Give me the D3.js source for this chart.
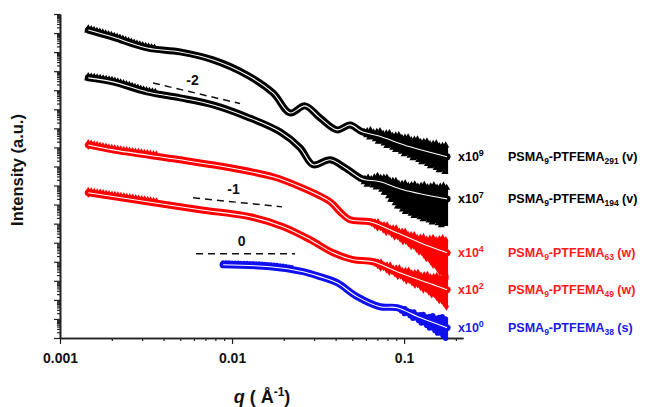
<!DOCTYPE html>
<html>
<head>
<meta charset="utf-8">
<script src="https://cdn.jsdelivr.net/npm/d3@7.9.0/dist/d3.min.js"></script>
<style>
  body { margin: 0; background: #fff; }
  svg { display: block; font-family: Arial, "Liberation Sans", sans-serif; font-weight: bold; }
</style>
</head>
<body>
<svg id="chart" width="647" height="407"></svg>
<script>
// q in 1/Angstrom, intensity as log10 of the plotted (offset) value
const q291 = [0.00146, 0.00203, 0.00321, 0.00499, 0.00776, 0.01223, 0.01731, 0.02173, 0.02657, 0.03248, 0.04078, 0.04853, 0.05699, 0.0706, 0.1084, 0.1778];
const logI291 = [12.16, 11.79, 11.22, 11.01, 10.59, 9.8, 8.86, 7.81, 8.18, 7.55, 6.92, 7.18, 6.82, 6.61, 6.03, 5.51];
const up291 = [0, 0, 0, 0, 0, 0, 0, 0, 0, 0, 0, 0, 0, 0.15, 0.37, 0.47];
const down291 = [0, 0, 0, 0, 0, 0, 0, 0, 0, 0, 0, 0, 0, 0.2, 0.42, 0.79];

const q194 = [0.00146, 0.00203, 0.00321, 0.00499, 0.00776, 0.01223, 0.01901, 0.02485, 0.02957, 0.03715, 0.0454, 0.05548, 0.05934, 0.07252, 0.09867, 0.1778];
const logI194 = [9.65, 9.44, 8.91, 8.6, 8.23, 7.6, 6.82, 5.98, 5.09, 5.35, 4.93, 4.4, 4.3, 4.2, 3.78, 3.3];
const up194 = [0, 0, 0, 0, 0, 0, 0, 0, 0, 0, 0, 0, 0, 0.2, 0.25, 0.58];
const down194 = [0, 0, 0, 0, 0, 0, 0, 0, 0, 0, 0, 0, 0.1, 0.3, 1.0, 1.36];

const q63 = [0.00146, 0.00203, 0.00499, 0.00974, 0.01731, 0.02485, 0.03715, 0.04244, 0.04853, 0.0634, 0.09105, 0.1239, 0.1778];
const logI63 = [6.13, 5.87, 5.35, 4.93, 4.46, 3.93, 3.15, 2.62, 2.2, 2.1, 1.52, 1.0, 0.47];
const up63 = [0, 0, 0, 0, 0, 0, 0, 0, 0, 0, 0.1, 0.2, 0.65];
const down63 = [0, 0, 0, 0, 0, 0, 0, 0, 0, 0, 0.15, 0.4, 1.3];

const q49 = [0.00146, 0.00321, 0.00652, 0.01273, 0.0198, 0.02841, 0.03868, 0.05053, 0.06603, 0.09105, 0.1475, 0.1778];
const logI49 = [3.62, 3.15, 2.73, 2.36, 1.84, 1.16, 0.47, 0.11, 0.0, -0.52, -1.2, -1.47];
const up49 = [0, 0, 0, 0, 0, 0, 0, 0, 0, 0.1, 0.35, 0.6];
const down49 = [0, 0, 0, 0, 0, 0, 0, 0, 0, 0.1, 0.45, 0.8];

const q38 = [0.00887, 0.01663, 0.02587, 0.03248, 0.04078, 0.05332, 0.07252, 0.09105, 0.1239, 0.1778];
const logI38 = [-0.16, -0.26, -0.52, -0.78, -1.1, -1.83, -2.36, -2.41, -2.93, -3.46];
const up38 = [0, 0, 0, 0, 0, 0, 0, 0, 0.1, 0.45];
const down38 = [0, 0, 0, 0, 0, 0, 0, 0, 0.15, 0.5];

const multipliers = ["9", "7", "4", "2", "0"];
const subscripts = ["291", "194", "63", "49", "38"];
const phases = ["(v)", "(v)", "(w)", "(w)", "(s)"];

// power-law guide lines: [q start, q end], [log I start, log I end], label
const guideQ = [[0.003474, 0.01113], [0.005934, 0.01953], [0.006176, 0.02324]];
const guideLogI = [[9.38, 8.3], [3.36, 2.88], [0.42, 0.42]];
const guideLabels = ["-2", "-1", "0"];

const xTickLabels = [0.001, 0.01, 0.1];

const colors = ["#000000", "#000000", "#ff0000", "#ff0000", "#1010ee"];
const textColors = ["#000000", "#000000", "#ff1a1a", "#ff1a1a", "#1a1ae6"];
const symbols = [d3.symbolTriangle, d3.symbolTriangle, d3.symbolDiamond, d3.symbolDiamond, d3.symbolCircle];

const rawSeries = [
  [q291, logI291, up291, down291],
  [q194, logI194, up194, down194],
  [q63, logI63, up63, down63],
  [q49, logI49, up49, down49],
  [q38, logI38, up38, down38]
];

const series = rawSeries.map(([q, l, up, dn], i) => ({
  points: q.map((v, j) => ({ q: v, I: 10 ** l[j], hi: 10 ** (l[j] + up[j]), lo: 10 ** (l[j] - dn[j]), spread: up[j] + dn[j] })),
  color: colors[i],
  textColor: textColors[i],
  symbol: symbols[i],
  mult: multipliers[i],
  sub: subscripts[i],
  phase: phases[i]
}));

const svg = d3.select("#chart");

const x = d3.scaleLog().domain([0.001, 0.22]).range([60, 463]);
const y = d3.scaleLog().domain([1e-4, 1e13]).range([338, 14]);

// axes
const yMajor = d3.range(-4, 14).map((e) => 10 ** e);
const yMinor = [];
d3.range(-4, 13).forEach((e) => {
  for (let m = 2; m <= 9; m++) yMinor.push(m * 10 ** e);
});
const xMinor = [];
[-3, -2, -1].forEach((e) => {
  for (let m = 2; m <= 9; m++) {
    const v = m * 10 ** e;
    if (v <= 0.22) xMinor.push(v);
  }
});

const yAxisMinor = svg.append("g").attr("transform", "translate(60,0)")
  .call(d3.axisLeft(y).tickValues(yMinor).tickSize(3).tickSizeOuter(0).tickFormat(""));
const yAxis = svg.append("g").attr("transform", "translate(60,0)")
  .call(d3.axisLeft(y).tickValues(yMajor).tickSize(6).tickSizeOuter(0).tickFormat(""));
const xAxisMinor = svg.append("g").attr("transform", "translate(0,338)")
  .call(d3.axisBottom(x).tickValues(xMinor).tickSize(3).tickSizeOuter(0).tickFormat(""));
const xAxis = svg.append("g").attr("transform", "translate(0,338)")
  .call(d3.axisBottom(x).tickValues(xTickLabels).tickSize(6).tickSizeOuter(0).tickPadding(9).tickFormat((d) => String(d)));

[yAxis, yAxisMinor, xAxis, xAxisMinor].forEach((g) => {
  g.selectAll("path.domain").attr("stroke", "#222").attr("stroke-width", 1.6);
  g.selectAll(".tick line").attr("stroke", "#222").attr("stroke-width", 1.2);
});
xAxis.selectAll(".tick text")
  .attr("font-size", 14).attr("font-weight", "bold").attr("fill", "#111")
  .attr("font-family", "Arial, 'Liberation Sans', sans-serif");

// curves
const curve = d3.curveCatmullRom.alpha(0.5);
const line = d3.line().x((d) => x(d.q)).y((d) => y(d.I)).curve(curve);
const hiLine = d3.line().x((d) => x(d.q)).y((d) => y(d.hi)).curve(curve);
const loLine = d3.line().x((d) => x(d.q)).y((d) => y(d.lo)).curve(curve);
const band = d3.area().x((d) => x(d.q)).y0((d) => y(d.lo)).y1((d) => y(d.hi)).curve(curve);

series.forEach((s) => {
  const g = svg.append("g");
  const firstNoisy = s.points.findIndex((d) => d.spread > 0);
  const noisy = s.points.slice(Math.max(0, firstNoisy - 1));
  g.append("path").attr("d", band(noisy)).attr("fill", s.color).attr("stroke", s.color).attr("stroke-width", 2);

  // scattered markers along the edges of the noisy tail
  const edgeSym = d3.symbol().type(s.symbol).size(22);
  [hiLine, loLine].forEach((gen, k) => {
    const tmp = g.append("path").attr("d", gen(noisy)).attr("fill", "none");
    const n = tmp.node();
    const len = n.getTotalLength();
    let c = 0;
    for (let L = 2; L < len; L += 3.2, c++) {
      const p = n.getPointAtLength(L);
      const off = (k === 0 ? -1 : 1) * (c % 3);
      g.append("path").attr("d", edgeSym()).attr("fill", s.color)
        .attr("transform", `translate(${p.x},${p.y + off})`);
    }
    tmp.remove();
  });

  const thick = g.append("path").attr("d", line(s.points))
    .attr("fill", "none").attr("stroke", s.color).attr("stroke-width", 7).attr("stroke-linecap", "round");

  // serrated marker edge at the low-q start
  const node = thick.node();
  const total = node.getTotalLength();
  const sym = d3.symbol().type(s.symbol).size(14);
  for (let L = 0; L < Math.min(70, total); L += 3) {
    const p = node.getPointAtLength(L);
    g.append("path").attr("d", sym()).attr("fill", s.color)
      .attr("transform", `translate(${p.x},${p.y - 2.5})`);
  }
  g.append("path").attr("d", d3.symbol().type(s.symbol).size(30)())
    .attr("fill", s.color)
    .attr("transform", `translate(${x(s.points[0].q)},${y(s.points[0].I)})`);

  g.append("path").attr("d", line(s.points))
    .attr("fill", "none").attr("stroke", "#ffffff").attr("stroke-width", 1.1);

  // labels on the right
  const last = s.points[s.points.length - 1];
  const ly = y(last.I) + 4;
  const m = svg.append("text").attr("x", 458).attr("y", ly).attr("fill", s.textColor).attr("font-size", 12.5);
  m.append("tspan").text("x10");
  m.append("tspan").attr("dy", -5).attr("font-size", 9).text(s.mult);

  const t = svg.append("text").attr("x", 508).attr("y", ly).attr("fill", s.textColor).attr("font-size", 12.5);
  t.append("tspan").text("PSMA");
  t.append("tspan").attr("dy", 3).attr("font-size", 8.5).text("9");
  t.append("tspan").attr("dy", -3).text("-PTFEMA");
  t.append("tspan").attr("dy", 3).attr("font-size", 8.5).text(s.sub);
  t.append("tspan").attr("dy", -3).text(" " + s.phase);
});

// slope guides
guideQ.forEach((qq, i) => {
  const x1 = x(qq[0]), x2 = x(qq[1]);
  const y1 = y(10 ** guideLogI[i][0]), y2 = y(10 ** guideLogI[i][1]);
  svg.append("line").attr("x1", x1).attr("y1", y1).attr("x2", x2).attr("y2", y2)
    .attr("stroke", "#111").attr("stroke-width", 1.5).attr("stroke-dasharray", "7,5");
  svg.append("text").attr("x", (x1 + x2) / 2 - 4).attr("y", (y1 + y2) / 2 - 8)
    .attr("text-anchor", "middle").attr("font-size", 14).attr("fill", "#111").text(guideLabels[i]);
});

// axis titles
svg.append("text").attr("transform", "translate(23,170) rotate(-90)")
  .attr("text-anchor", "middle").attr("font-size", 16.5).attr("fill", "#111").text("Intensity (a.u.)");

const xt = svg.append("text").attr("x", 262).attr("y", 403).attr("text-anchor", "middle")
  .attr("font-size", 18).attr("fill", "#111");
xt.append("tspan").attr("font-style", "italic").text("q");
xt.append("tspan").text(" ( Å");
xt.append("tspan").attr("dy", -7).attr("font-size", 12).text("-1");
xt.append("tspan").attr("dy", 7).text(")");
</script>
</body>
</html>
